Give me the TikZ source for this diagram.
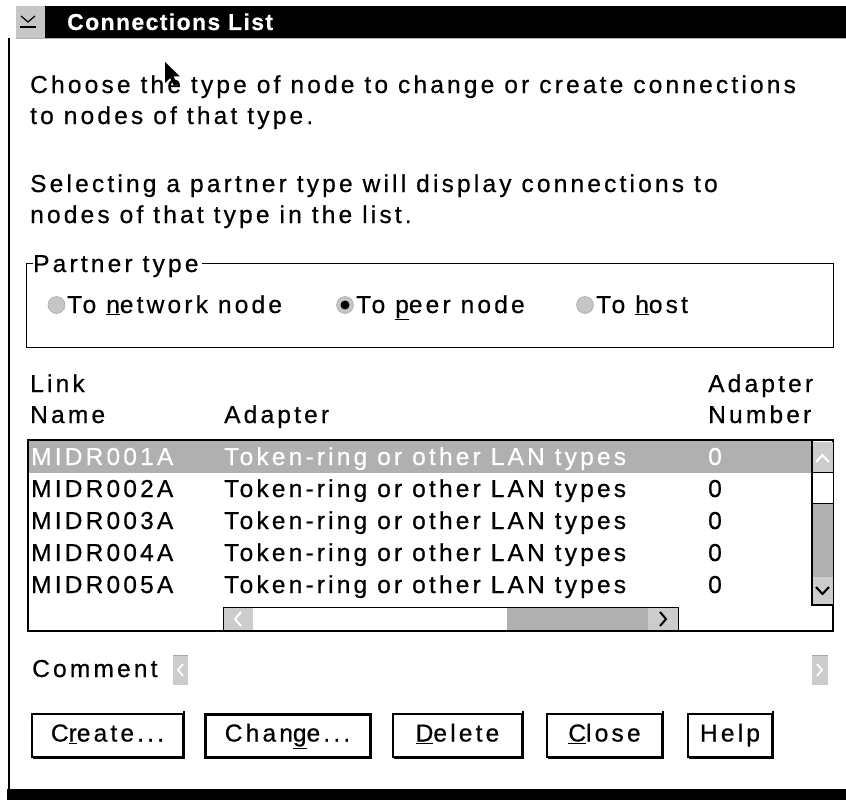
\documentclass[tikz,border=0pt]{standalone}
\usepackage{fontspec}
\setmainfont{Liberation Sans}[LetterSpace=13,FakeBold=0.6]
\usetikzlibrary{patterns}
\tikzset{
  txt/.style={anchor=base west, inner sep=0pt, font=\fontsize{24.5}{28}\selectfont},
  wtxt/.style={txt, text=white},
  hatchdark/.style={fill=gray!62},
  btnbox/.style={draw=black, line width=1.2pt, inner sep=0pt, text height=17pt, text depth=5pt,
    font=\fontsize{24.5}{28}\selectfont, minimum height=43pt},
  radio/.style={circle, minimum size=17pt, inner sep=0pt, fill=gray!45, draw=gray!70, line width=0.5pt},
}
\begin{document}
\begin{tikzpicture}[x=1pt,y=-1pt]
\useasboundingbox (0,0) rectangle (846,800);
% title bar
\fill[black] (45,6) rectangle (846,38);
\fill[gray!45] (16,6) rectangle (45,38);
\draw[black, line width=1.2pt] (21,16) -- (28,22) -- (35,16);
\draw[black, line width=1.2pt] (20,27) -- (36,27);
\draw[gray!60, line width=1pt] (16,38.5) -- (846,38.5);
\node[anchor=base west, inner sep=0pt, text=white, font=\fontsize{23}{26}\selectfont\bfseries\addfontfeature{LetterSpace=6}] (title) at (67,30) {Connections List};
% window frame
\draw[black, line width=1.4pt] (9,38) -- (9,790);
\fill[black] (7,789) rectangle (846,800);
% cursor
\fill[black] (165,62) -- (165,83) -- (170,78) -- (174,86) -- (177.5,84.5) -- (173.5,76.5) -- (180,76.5) -- cycle;
% intro text
\node[txt] (l1) at (30,93) {Choose the type of node to change or create connections};
\node[txt] (l2) at (30,124) {to nodes of that type.};
\node[txt] (l3) at (30,192) {Selecting a partner type will display connections to};
\node[txt] (l4) at (30,223) {nodes of that type in the list.};
% group box
\node[txt] (ptype) at (33,272) {Partner type};
\draw[black, line width=1pt] (33,263) -- (26,263) -- (26,347) -- (833,347) -- (833,263) -- ([xshift=3pt]ptype.east |- 0,263);
\node[radio] (r1) at (56.5,305) {};
\node[txt] (t1) at (67,313) {To \underline{n}etwork node};
\node[radio] (r2) at (345,305) {};
\fill[black] (r2.center) circle (4.5);
\node[txt] (t2) at (356,313) {To \underline{p}eer node};
\node[radio] (r3) at (585,305) {};
\node[txt] (t3) at (596,313) {To \underline{h}ost};
% column headers
\node[txt] (hlink) at (30,392) {Link};
\node[txt] (hname) at (30,423) {Name};
\node[txt] (hadap) at (224,423) {Adapter};
\node[txt] (hadap2) at (708,392) {Adapter};
\node[txt] (hnum) at (708,423) {Number};
% list box
\fill[hatchdark] (29,441) rectangle (812,473);
\draw[black, line width=1.2pt] (28,440) rectangle (833,631);
\draw[black, line width=2.2pt] (28,440) -- (833,440);
\node[wtxt] (n1) at (31,465) {MIDR001A};
\node[wtxt] (a1) at (224,465) {Token-ring or other LAN types};
\node[wtxt] (c1) at (708,465) {0};
\node[txt] (n2) at (31,497) {MIDR002A};
\node[txt] (a2) at (224,497) {Token-ring or other LAN types};
\node[txt] (c2) at (708,497) {0};
\node[txt] (n3) at (31,529) {MIDR003A};
\node[txt] (a3) at (224,529) {Token-ring or other LAN types};
\node[txt] (c3) at (708,529) {0};
\node[txt] (n4) at (31,561) {MIDR004A};
\node[txt] (a4) at (224,561) {Token-ring or other LAN types};
\node[txt] (c4) at (708,561) {0};
\node[txt] (n5) at (31,593) {MIDR005A};
\node[txt] (a5) at (224,593) {Token-ring or other LAN types};
\node[txt] (c5) at (708,593) {0};
% vertical scrollbar
\fill[gray!40] (812,442) rectangle (833,472);
\fill[white] (812,472) rectangle (833,503);
\fill[gray!62] (812,503) rectangle (833,577);
\fill[gray!40] (812,577) rectangle (833,605);
\draw[white, line width=2pt] (816,462) -- (822.5,455) -- (829,462);
\draw[black, line width=2pt] (816,587) -- (822.5,594) -- (829,587);
\draw[black, line width=1.2pt] (812,440) -- (812,605) -- (833,605);
\draw[black, line width=1pt] (812,472) -- (833,472) (812,503) -- (833,503);
% horizontal scrollbar
\fill[gray!40] (223,607) rectangle (253,631);
\fill[gray!62] (507,607) rectangle (648,631);
\fill[gray!40] (648,607) rectangle (678,631);
\draw[black, line width=1pt] (223,607) rectangle (678,631);
\draw[black, line width=2pt] (223,631) -- (678,631);
\draw[white, line width=2pt] (241,612) -- (235,619) -- (241,626);
\draw[black, line width=2pt] (660,612) -- (666,619) -- (660,626);
% comment
\node[txt] (cmt) at (32,677) {Comment};
\fill[gray!40] (173,655) rectangle (188,685);
\draw[white, line width=1.8pt] (183,664) -- (178,670) -- (183,676);
\fill[gray!40] (812,655) rectangle (828,685);
\draw[white, line width=1.8pt] (817,664) -- (822,670) -- (817,676);
\draw[gray!70, line width=0.8pt] (173,655) -- (188,655) (812,655) -- (828,655);
% buttons
\node[btnbox, minimum width=151pt] (bcreate) at (107.5,735.5) {C\underline{r}eate...};
\node[btnbox, minimum width=165pt, line width=3pt] (bchange) at (287.5,735.5) {Chan\underline{g}e...};
\node[btnbox, minimum width=129pt] (bdelete) at (457.5,735.5) {\underline{D}elete};
\node[btnbox, minimum width=115pt] (bclose) at (604.5,735.5) {\underline{C}lose};
\node[btnbox, minimum width=84pt] (bhelp) at (730,735.5) {Help};
\foreach \b in {bcreate,bdelete,bclose,bhelp}{
  \draw[black, line width=2.4pt] ([xshift=0.6pt,yshift=2pt]\b.north east) -- ([xshift=0.6pt,yshift=-0.6pt]\b.south east) -- ([xshift=2pt,yshift=-0.6pt]\b.south west);
}
\end{tikzpicture}
\end{document}
